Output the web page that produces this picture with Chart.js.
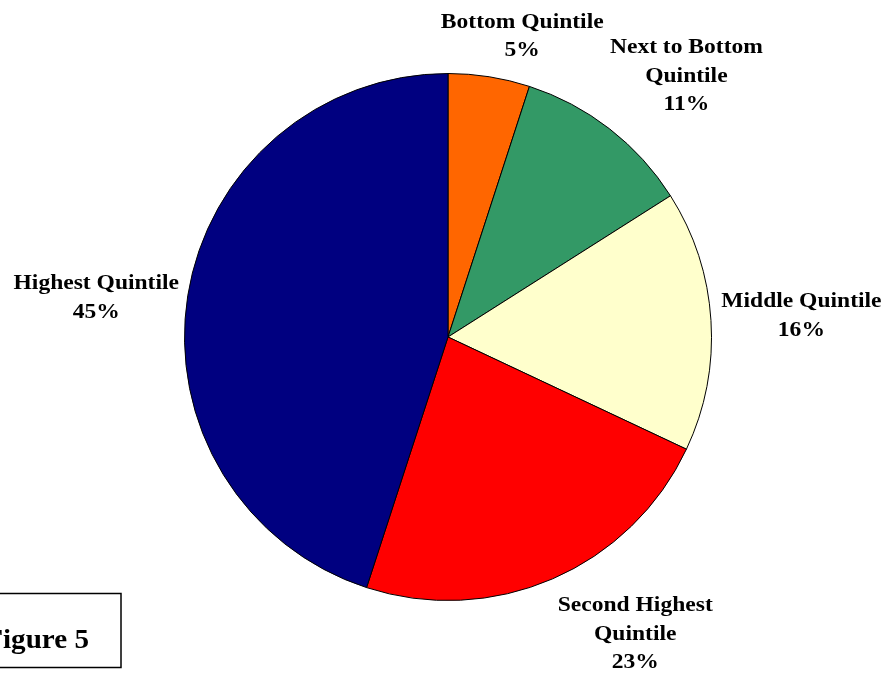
<!DOCTYPE html>
<html>
<head>
<meta charset="utf-8">
<script src="https://cdn.jsdelivr.net/npm/chart.js@4/dist/chart.umd.min.js"></script>
<style>
  html, body { margin: 0; padding: 0; background: #fff; }
  #pie { display: block; }
</style>
</head>
<body>
<canvas id="pie" width="888" height="677"></canvas>
<script>
// income share by quintile, clockwise from 12 o'clock
var categories = ['Bottom Quintile', 'Next to Bottom Quintile', 'Middle Quintile', 'Second Highest Quintile', 'Highest Quintile'];
var shares = [5, 11, 16, 23, 45];
var colors = ['#FF6600', '#339966', '#FFFFCC', '#FF0000', '#000080'];

// how each label is broken into lines
var labelLines = [
  ['Bottom Quintile'],
  ['Next to Bottom', 'Quintile'],
  ['Middle Quintile'],
  ['Second Highest', 'Quintile'],
  ['Highest Quintile']
];
// label nudges from the default spot outside the slice
var labelNudge = [[19, 48], [22, 18], [1, 1], [47, -27], [-3, 16]];

var labelPlugin = {
  id: 'sliceLabels',
  afterDraw: function(chart) {
    var ctx = chart.ctx;
    var meta = chart.getDatasetMeta(0);
    var lineH = 28.5;
    ctx.save();
    ctx.fillStyle = '#000';
    ctx.font = 'bold 22px "Liberation Serif", "Times New Roman", serif';
    ctx.textAlign = 'center';
    ctx.textBaseline = 'middle';
    meta.data.forEach(function(arc, i) {
      var p = arc.getProps(['x', 'y', 'startAngle', 'endAngle', 'outerRadius']);
      var mid = (p.startAngle + p.endAngle) / 2;
      var d = p.outerRadius * 1.34;
      var cx = p.x + Math.cos(mid) * d + labelNudge[i][0];
      var cy = p.y + Math.sin(mid) * d + labelNudge[i][1];
      var lines = labelLines[i].concat([shares[i] + '%']);
      var top = cy - (lines.length - 1) * lineH / 2;
      lines.forEach(function(t, k) {
        ctx.save();
        ctx.translate(cx, top + k * lineH);
        ctx.scale(1.07, 1);
        ctx.fillText(t, 0, 0);
        ctx.restore();
      });
    });

    // figure tag in the lower left corner
    ctx.lineWidth = 1.5;
    ctx.strokeStyle = '#000';
    ctx.strokeRect(-40, 593.5, 161, 74);
    ctx.font = 'bold 28px "Liberation Serif", "Times New Roman", serif';
    ctx.textAlign = 'right';
    ctx.textBaseline = 'alphabetic';
    ctx.translate(89, 648);
    ctx.scale(1.04, 1);
    ctx.fillText('Figure 5', 0, 0);
    ctx.restore();
  }
};

var chart = new Chart(document.getElementById('pie').getContext('2d'), {
  type: 'pie',
  data: {
    labels: categories,
    datasets: [{
      data: shares,
      backgroundColor: colors,
      borderColor: '#000',
      borderWidth: 1
    }]
  },
  options: {
    responsive: false,
    animation: false,
    layout: { padding: { left: 184, right: 176, top: 73, bottom: 76 } },
    plugins: {
      legend: { display: false },
      tooltip: { enabled: false }
    }
  },
  plugins: [labelPlugin]
});
</script>
</body>
</html>
